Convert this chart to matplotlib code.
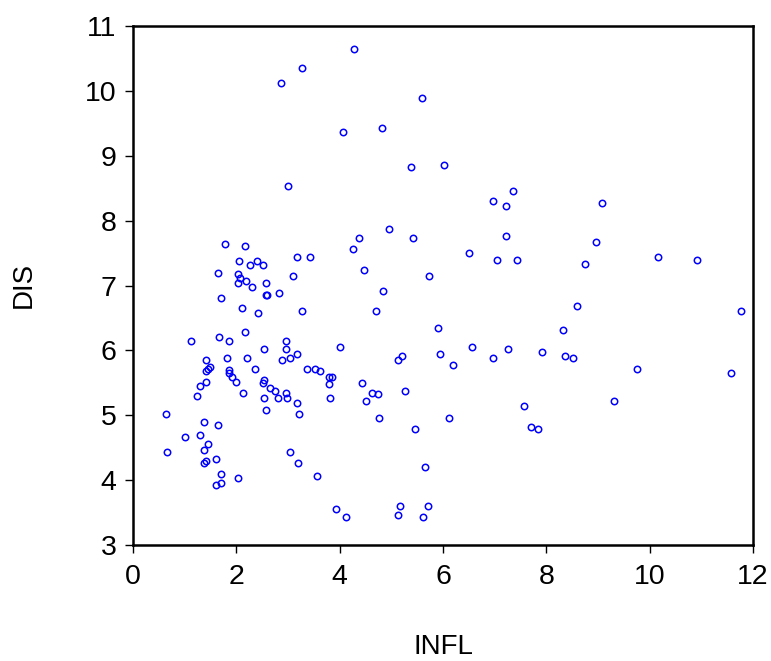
import matplotlib
matplotlib.use("Agg")
import matplotlib.pyplot as plt

infl = [4.28, 3.27, 2.87, 5.59, 4.06, 4.81, 5.39, 6.02, 3.00, 4.95,
        4.38, 5.42, 4.25, 1.79, 2.17, 2.06, 2.40, 2.26, 2.52, 3.17,
        3.43, 1.65, 2.04, 2.07, 2.19, 2.04, 2.30, 2.57, 3.10, 4.47,
        5.73, 4.83, 2.82, 2.57, 2.59, 1.70, 2.10, 2.41, 3.28, 4.70,
        5.90, 2.16, 1.12, 1.66, 1.85, 2.97, 4.01, 2.54, 2.96, 1.81,
        2.20, 2.88, 3.03, 3.18, 1.41, 5.12, 5.21, 5.95, 6.20, 1.49,
        1.46, 1.41, 1.85, 1.85, 1.91, 1.99, 2.37, 1.41, 1.29, 1.24,
        2.12, 2.54, 2.52, 2.66, 2.75, 2.97, 2.54, 2.81, 2.99, 3.17,
        2.57, 3.22, 3.37, 3.52, 3.62, 3.79, 3.86, 3.80, 3.81, 4.43,
        4.62, 4.74, 4.50, 5.27, 4.77, 6.11, 5.45, 0.63, 0.66, 1.01,
        1.37, 1.64, 1.30, 1.45, 1.37, 1.61, 1.41, 1.37, 1.70, 1.71,
        1.61, 2.04, 3.03, 3.20, 3.56, 3.93, 4.13, 5.66, 5.17, 5.71,
        5.13, 5.61, 7.35, 6.96, 7.22, 9.07, 7.22, 6.50, 7.04, 7.44,
        8.97, 8.74, 10.17, 10.91, 8.60, 11.77, 8.33, 6.57, 6.97, 7.26,
        7.91, 8.37, 8.51, 9.75, 11.57, 7.56, 9.30, 7.71, 7.83]

dis = [10.65, 10.35, 10.12, 9.89, 9.36, 9.43, 8.83, 8.86, 8.53, 7.87,
       7.73, 7.73, 7.57, 7.64, 7.61, 7.37, 7.37, 7.31, 7.31, 7.44,
       7.44, 7.20, 7.17, 7.11, 7.07, 7.04, 6.97, 7.04, 7.14, 7.24,
       7.14, 6.91, 6.88, 6.85, 6.85, 6.81, 6.65, 6.58, 6.61, 6.61,
       6.35, 6.28, 6.15, 6.21, 6.15, 6.15, 6.05, 6.02, 6.02, 5.89,
       5.89, 5.85, 5.89, 5.95, 5.85, 5.85, 5.92, 5.95, 5.78, 5.75,
       5.72, 5.68, 5.69, 5.65, 5.59, 5.52, 5.72, 5.52, 5.45, 5.29,
       5.35, 5.55, 5.49, 5.42, 5.38, 5.35, 5.26, 5.26, 5.26, 5.19,
       5.08, 5.02, 5.72, 5.72, 5.68, 5.59, 5.59, 5.48, 5.26, 5.49,
       5.35, 5.32, 5.22, 5.38, 4.96, 4.96, 4.79, 5.02, 4.43, 4.66,
       4.89, 4.85, 4.69, 4.56, 4.46, 4.33, 4.29, 4.26, 4.10, 3.96,
       3.93, 4.03, 4.43, 4.26, 4.06, 3.56, 3.43, 4.20, 3.60, 3.60,
       3.47, 3.43, 8.46, 8.30, 8.23, 8.27, 7.77, 7.50, 7.40, 7.40,
       7.67, 7.33, 7.44, 7.40, 6.68, 6.61, 6.31, 6.05, 5.88, 6.02,
       5.98, 5.92, 5.88, 5.72, 5.65, 5.15, 5.22, 4.82, 4.79]

x_ticks = [0, 2, 4, 6, 8, 10, 12]
y_ticks = [3, 4, 5, 6, 7, 8, 9, 10, 11]
x_label = "INFL"
y_label = "DIS"

plt.rcParams['font.family'] = ['Liberation Sans', 'DejaVu Sans']

fig = plt.figure(figsize=(7.71, 6.61), dpi=100)
ax = fig.add_axes([133/771, 1 - 545/661, (753 - 133)/771, (545 - 26)/661])

ax.plot(infl, dis, linestyle='none', marker='o', markersize=4.6,
        markerfacecolor='none', markeredgecolor='#0000ff', markeredgewidth=1.1,
        clip_on=False)

ax.set_xlim(0, 12)
ax.set_ylim(3, 11)
ax.set_xticks(x_ticks)
ax.set_yticks(y_ticks)
ax.set_xticklabels([str(t) for t in x_ticks])
ax.set_yticklabels([str(t) for t in y_ticks])
ax.tick_params(axis='both', direction='out', length=6, width=1.0,
               labelsize=20.5, colors='black')
ax.tick_params(axis='x', pad=8)
ax.tick_params(axis='y', pad=6)

for s in ax.spines.values():
    s.set_linewidth(1.8)
    s.set_color('black')

fig.text(24/771, 1 - 285/661, y_label, rotation=90, ha='center', va='center', fontsize=20)
fig.text(443/771, 1 - 647/661, x_label, ha='center', va='center', fontsize=20)

fig.savefig("out.png", dpi=100)
